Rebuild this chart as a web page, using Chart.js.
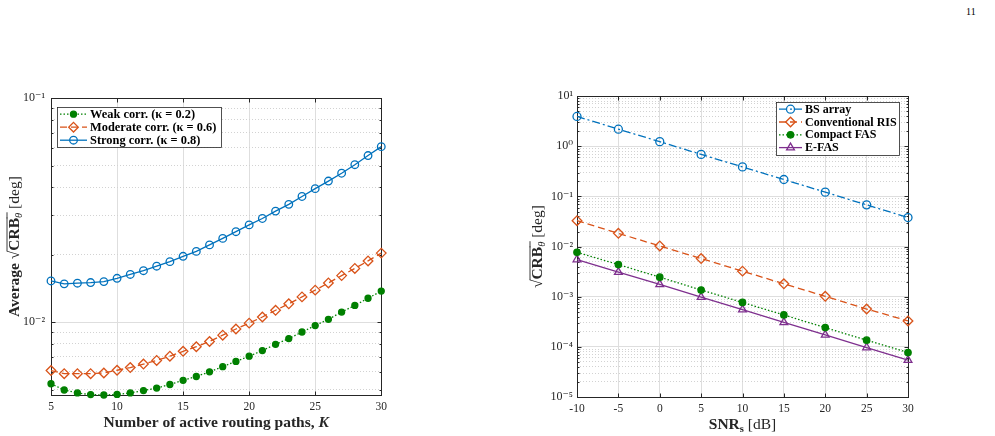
<!DOCTYPE html>
<html>
<head>
<meta charset="utf-8">
<script src="https://cdn.jsdelivr.net/npm/chart.js@4.4.0/dist/chart.umd.min.js"></script>
<style>
  html, body { margin: 0; padding: 0; background: #fff; }
  body { width: 995px; height: 436px; position: relative; overflow: hidden; }
  .panel { position: absolute; }
  #page-no { position: absolute; left: 966px; top: 6px; font: 10px 'Liberation Serif', serif; color: #000; }
</style>
</head>
<body>
<div id="page-no">11</div>
<div class="panel" style="left:0;top:85px;width:392px;height:350px"><canvas id="corr-chart"></canvas></div>
<div class="panel" style="left:520px;top:85px;width:400px;height:350px"><canvas id="snr-chart"></canvas></div>
<script>
// left panel: average sqrt(CRB) vs number of active routing paths
const paths = [5, 6, 7, 8, 9, 10, 11, 12, 13, 14, 15, 16, 17, 18, 19, 20, 21, 22, 23, 24, 25, 26, 27, 28, 29, 30];
const weakCorr = [0.00531, 0.00498, 0.00483, 0.00475, 0.00473, 0.00476, 0.00483, 0.00495, 0.00508, 0.00527, 0.0055, 0.00572, 0.006, 0.00633, 0.00668, 0.00705, 0.00747, 0.00796, 0.00845, 0.00904, 0.00966, 0.0103, 0.0111, 0.01188, 0.01279, 0.01377];
const moderateCorr = [0.00608, 0.00589, 0.00589, 0.00589, 0.00593, 0.0061, 0.00627, 0.0065, 0.00675, 0.00705, 0.00741, 0.00777, 0.0082, 0.00875, 0.00932, 0.0099, 0.01055, 0.0113, 0.01208, 0.01297, 0.0139, 0.01497, 0.01614, 0.01738, 0.01877, 0.02034];
const strongCorr = [0.01528, 0.01483, 0.01493, 0.01503, 0.01518, 0.0157, 0.01633, 0.01698, 0.01778, 0.01863, 0.01968, 0.0207, 0.02213, 0.02366, 0.02535, 0.02718, 0.02904, 0.03133, 0.03358, 0.03641, 0.03946, 0.04266, 0.04624, 0.05048, 0.05546, 0.06077];
const corrLabels = ['Weak corr. (\u03ba = 0.2)', 'Moderate corr. (\u03ba = 0.6)', 'Strong corr. (\u03ba = 0.8)'];
const leftDecades = [0.01, 0.1];
const leftDecadeLabels = ['10\u207b\u00b2', '10\u207b\u00b9'];

// right panel: sqrt(CRB) vs sensing SNR
const snr = [-10, -5, 0, 5, 10, 15, 20, 25, 30];
const bsArray = [3.95, 2.2, 1.24, 0.69, 0.389, 0.218, 0.122, 0.068, 0.038];
const convRis = [0.0329, 0.0184, 0.0103, 0.00578, 0.00324, 0.00181, 0.00102, 0.000569, 0.000329];
const compactFas = [0.0077, 0.00438, 0.00246, 0.00136, 0.00077, 0.000433, 0.000242, 0.000136, 0.0000771];
const eFas = [0.00552, 0.00309, 0.00176, 0.000985, 0.000552, 0.000309, 0.000173, 0.000097, 0.0000543];
const schemeLabels = ['BS array', 'Conventional RIS', 'Compact FAS', 'E-FAS'];
const rightDecades = [1e-5, 1e-4, 1e-3, 1e-2, 1e-1, 1, 10];
const rightDecadeLabels = ['10\u207b\u2075', '10\u207b\u2074', '10\u207b\u00b3', '10\u207b\u00b2', '10\u207b\u00b9', '10\u2070', '10\u00b9'];

const ink = '#262626';
const blue = '#0072BD', orange = '#D95319', green = '#008000', purple = '#7E2F8E';
const serif = "'Liberation Serif', 'DejaVu Serif', serif";

function isDecade(v) {
    const l = Math.log10(v);
    return Math.abs(l - Math.round(l)) < 1e-6;
}

// decade values plus the 2..9 in-between values, used for grid lines and ticks
function logTicks(decades, min, max) {
    const out = [];
    decades.forEach(d => {
        for (let m = 1; m <= 9; m++) {
            const v = +(d * m / 10).toPrecision(6);
            if (v >= min * 0.999 && v <= max * 1.001) out.push(v);
        }
    });
    decades.forEach(d => { if (d >= min && d <= max && !out.includes(d)) out.push(d); });
    return out.sort((a, b) => a - b);
}

function decadeLabel(decades, labels) {
    return v => {
        if (!isDecade(v)) return '';
        const i = decades.findIndex(d => Math.abs(Math.log10(d) - Math.log10(v)) < 1e-6);
        return i >= 0 ? labels[i] : '';
    };
}

function points(xs, ys) {
    return xs.map((x, i) => ({ x: x, y: ys[i] }));
}

function series(label, xs, ys, color, dash, style, radius, filled) {
    return {
        label: label,
        data: points(xs, ys),
        borderColor: color,
        borderWidth: 1.3,
        borderDash: dash,
        pointStyle: style,
        pointRadius: radius,
        pointBorderWidth: 1.3,
        pointBorderColor: color,
        pointBackgroundColor: filled ? color : 'rgba(0,0,0,0)',
        tension: 0,
        clip: false
    };
}

// several fonts on one line (for sqrt, sub- and superscripts)
function richText(ctx, parts, cx, cy) {
    let total = 0;
    parts.forEach(p => { ctx.font = p.font; p.w = ctx.measureText(p.t).width; total += p.w; });
    let x = cx - total / 2;
    ctx.textAlign = 'left';
    ctx.textBaseline = 'alphabetic';
    parts.forEach(p => {
        ctx.font = p.font;
        ctx.fillText(p.t, x, cy + (p.dy || 0));
        if (p.bar) {
            ctx.beginPath();
            ctx.lineWidth = 0.9;
            ctx.moveTo(x - 0.5, cy - p.bar);
            ctx.lineTo(x + p.w + 0.5, cy - p.bar);
            ctx.stroke();
        }
        x += p.w;
    });
}

const framePlugin = {
    id: 'frame',
    beforeDatasetsDraw(chart) {
        const { ctx, chartArea: a, scales } = chart;
        ctx.save();
        ctx.strokeStyle = ink;
        ctx.lineWidth = 1;
        const L = Math.round(a.left) + 0.5, R = Math.round(a.right) + 0.5;
        const T = Math.round(a.top) + 0.5, B = Math.round(a.bottom) + 0.5;
        ctx.strokeRect(L, T, R - L, B - T);
        ctx.beginPath();
        scales.x.ticks.forEach(t => {
            const px = Math.round(scales.x.getPixelForValue(t.value)) + 0.5;
            ctx.moveTo(px, B); ctx.lineTo(px, B - 4);
            ctx.moveTo(px, T); ctx.lineTo(px, T + 4);
        });
        scales.y.ticks.forEach(t => {
            const py = Math.round(scales.y.getPixelForValue(t.value)) + 0.5;
            const len = isDecade(t.value) ? 4 : 2;
            ctx.moveTo(L, py); ctx.lineTo(L + len, py);
            ctx.moveTo(R, py); ctx.lineTo(R - len, py);
        });
        ctx.stroke();
        ctx.restore();
    },
    afterDraw(chart, args, opts) {
        const { ctx, chartArea: a } = chart;
        ctx.save();
        ctx.fillStyle = ink;
        ctx.strokeStyle = ink;
        // x title
        richText(ctx, opts.xTitle, (a.left + a.right) / 2, a.bottom + 32);
        // y title
        ctx.translate(opts.yTitleX, (a.top + a.bottom) / 2);
        ctx.rotate(-Math.PI / 2);
        richText(ctx, opts.yTitle, 0, 0);
        ctx.restore();

        // legend box
        const lg = opts.legend;
        ctx.save();
        const x = a.left + lg.dx, y = a.top + lg.dy;
        ctx.fillStyle = '#fff';
        ctx.fillRect(x, y, lg.w, lg.h);
        ctx.strokeStyle = ink;
        ctx.lineWidth = 0.8;
        ctx.strokeRect(Math.round(x) + 0.5, Math.round(y) + 0.5, lg.w, lg.h);
        chart.data.datasets.forEach((ds, i) => {
            const ry = y + lg.first + i * lg.row;
            const x0 = x + 3, x1 = x0 + lg.sample;
            ctx.strokeStyle = ds.borderColor;
            ctx.lineWidth = ds.borderWidth;
            ctx.setLineDash(ds.borderDash || []);
            ctx.beginPath();
            ctx.moveTo(x0, ry); ctx.lineTo(x1, ry);
            ctx.stroke();
            ctx.setLineDash([]);
            ctx.fillStyle = ds.pointBackgroundColor;
            ctx.lineWidth = ds.pointBorderWidth;
            Chart.helpers.drawPoint(ctx, { pointStyle: ds.pointStyle, radius: ds.pointRadius, rotation: 0, borderWidth: ds.pointBorderWidth }, (x0 + x1) / 2, ry);
            ctx.fillStyle = '#000';
            ctx.font = lg.font;
            ctx.textAlign = 'left';
            ctx.textBaseline = 'middle';
            ctx.fillText(ds.label, x1 + 3, ry + 0.5);
        });
        ctx.restore();
    }
};

function gridColor(c) {
    if (!c.tick) return ink;
    return c.scale.type === 'logarithmic' && !isDecade(c.tick.value) ? '#d2d2d2' : '#dedede';
}
function gridDash(c) {
    if (!c.tick) return [];
    return c.scale.type === 'logarithmic' && !isDecade(c.tick.value) ? [1, 2] : [];
}

function makeOptions(o) {
    return {
        responsive: true,
        maintainAspectRatio: false,
        animation: false,
        events: [],
        layout: { padding: o.padding },
        plugins: {
            legend: { display: false },
            tooltip: { enabled: false },
            frame: o.frame
        },
        scales: {
            x: {
                type: 'linear',
                min: o.xMin,
                max: o.xMax,
                afterFit: s => { s.height = o.xHeight; },
                grid: { color: gridColor, lineWidth: 1, drawTicks: false },
                border: { display: false, dash: gridDash },
                ticks: { stepSize: 5, padding: 5, color: ink, font: { family: serif, size: 11.5 }, maxRotation: 0 }
            },
            y: {
                type: 'logarithmic',
                min: o.yMin,
                max: o.yMax,
                afterFit: s => { s.width = o.yWidth; },
                afterBuildTicks: s => { s.ticks = logTicks(o.decades, o.yMin, o.yMax).map(v => ({ value: v })); },
                grid: { color: gridColor, lineWidth: 1, drawTicks: false, borderDash: gridDash },
                border: { display: false, dash: gridDash },
                ticks: { autoSkip: false, padding: o.yPad, color: ink, font: { family: serif, size: 12 }, callback: decadeLabel(o.decades, o.decadeLabels) }
            }
        }
    };
}

document.addEventListener('DOMContentLoaded', () => {
    new Chart(document.getElementById('corr-chart').getContext('2d'), {
        type: 'line',
        data: {
            datasets: [
                series(corrLabels[0], paths, weakCorr, green, [1.5, 2], 'circle', 3, true),
                series(corrLabels[1], paths, moderateCorr, orange, [7, 4], 'rectRot', 4.8, false),
                series(corrLabels[2], paths, strongCorr, blue, [], 'circle', 3.8, false)
            ]
        },
        plugins: [framePlugin],
        options: makeOptions({
            padding: { top: 8, right: 10, left: 0, bottom: 0 },
            xMin: 5, xMax: 30, xHeight: 40,
            yMin: 0.00473, yMax: 0.1, yWidth: 51, yPad: 6,
            decades: leftDecades, decadeLabels: leftDecadeLabels,
            frame: {
                xTitle: [
                    { t: 'Number of active routing paths, ', font: 'bold 15.5px ' + serif },
                    { t: 'K', font: 'italic bold 15.5px ' + serif }
                ],
                yTitleX: 19,
                yTitle: [
                    { t: 'Average ', font: 'bold 15.5px ' + serif },
                    { t: '\u221a', font: '15.5px ' + serif },
                    { t: 'CRB', font: 'bold 15.5px ' + serif, bar: 12 },
                    { t: '\u03b8', font: 'italic 10.5px ' + serif, dy: 3, bar: 12 },
                    { t: ' [deg]', font: '15.5px ' + serif }
                ],
                legend: { dx: 6, dy: 9, w: 164, h: 40, first: 7, row: 13, sample: 27, font: 'bold 12.4px ' + serif }
            }
        })
    });

    new Chart(document.getElementById('snr-chart').getContext('2d'), {
        type: 'line',
        data: {
            datasets: [
                series(schemeLabels[0], snr, bsArray, blue, [8, 3, 2, 3], 'circle', 4, false),
                series(schemeLabels[1], snr, convRis, orange, [7, 4], 'rectRot', 4.8, false),
                series(schemeLabels[2], snr, compactFas, green, [1.5, 2], 'circle', 3.2, true),
                series(schemeLabels[3], snr, eFas, purple, [], 'triangle', 4.5, false)
            ]
        },
        plugins: [framePlugin],
        options: makeOptions({
            padding: { top: 10, right: 12, left: 0, bottom: 0 },
            xMin: -10, xMax: 30, xHeight: 38,
            yMin: 1e-5, yMax: 10, yWidth: 57, yPad: 4,
            decades: rightDecades, decadeLabels: rightDecadeLabels,
            frame: {
                xTitle: [
                    { t: 'SNR', font: 'bold 15.5px ' + serif },
                    { t: 's', font: 'bold 10.5px ' + serif, dy: 3 },
                    { t: ' [dB]', font: '15.5px ' + serif }
                ],
                yTitleX: 22,
                yTitle: [
                    { t: '\u221a', font: '15.5px ' + serif },
                    { t: 'CRB', font: 'bold 15.5px ' + serif, bar: 12 },
                    { t: '\u03b8', font: 'italic 10.5px ' + serif, dy: 3, bar: 12 },
                    { t: ' [deg]', font: '15.5px ' + serif }
                ],
                legend: { dx: 199, dy: 6, w: 123, h: 53, first: 7, row: 12.8, sample: 23, font: 'bold 12px ' + serif }
            }
        })
    });
});
</script>
</body>
</html>
